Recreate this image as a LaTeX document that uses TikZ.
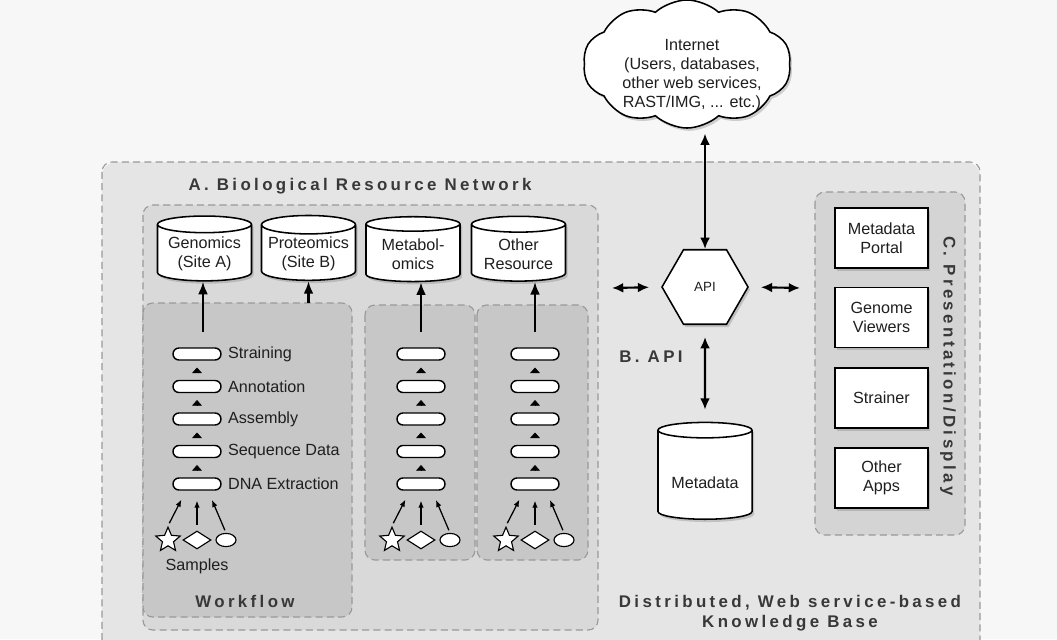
\documentclass[tikz,border=0pt]{standalone}
\usepackage{fontspec}
\setmainfont{Liberation Sans}
\newfontfamily\headfont[LetterSpace=20]{Liberation Sans}
\usetikzlibrary{shapes.geometric,shapes.misc,shapes.symbols,shadows,arrows.meta,positioning,calc}

\definecolor{pagebg}{gray}{0.97}
\definecolor{kbfill}{gray}{0.90}
\definecolor{netfill}{gray}{0.85}
\definecolor{wffill}{gray}{0.78}
\definecolor{dispfill}{gray}{0.83}
\definecolor{zoneline}{gray}{0.60}
\definecolor{ink}{gray}{0.12}
\definecolor{headink}{gray}{0.22}

\begin{document}
\begin{tikzpicture}[x=0.025cm, y=-0.025cm,
  font=\fontsize{11.5}{13.5}\selectfont, text=ink,
  zone/.style={draw=zoneline, dash pattern=on 5pt off 3pt, line width=0.8pt, rounded corners=7pt},
  heading/.style={font=\headfont\bfseries\fontsize{12}{14.5}\selectfont, text=headink, align=center},
  shade/.style={drop shadow={shadow xshift=1.5pt, shadow yshift=-2pt, opacity=0.35}},
  db/.style={cylinder, shape border rotate=90, aspect=0.22, draw=black, line width=1.1pt,
    fill=white, align=center, minimum width=2.35cm, minimum height=1.62cm, inner sep=1pt, shade},
  appbox/.style={rectangle, draw=black, line width=1.1pt, fill=white, align=center,
    minimum width=2.32cm, minimum height=1.5cm, shade},
  wfstep/.style={rounded rectangle, draw=black, line width=1pt, fill=white,
    minimum width=1.2cm, minimum height=0.3cm, inner sep=0pt},
  sstar/.style={star, star points=5, star point ratio=2.2, draw=black, line width=0.8pt,
    fill=white, minimum size=0.64cm, inner sep=0pt},
  sdia/.style={diamond, draw=black, line width=0.8pt, fill=white, minimum width=0.7cm,
    minimum height=0.45cm, inner sep=0pt},
  segg/.style={ellipse, draw=black, line width=0.8pt, fill=white, minimum width=0.5cm,
    minimum height=0.33cm, inner sep=0pt},
  up/.style={-{Latex[length=9pt,width=7pt]}, line width=1.6pt},
  dbl/.style={{Latex[length=8pt,width=7pt]}-{Latex[length=8pt,width=7pt]}, line width=1.5pt},
  stub/.style={-{Triangle[length=4pt,width=7pt]}, line width=0.4pt,
    shorten <=0.22cm, shorten >=0.17cm},
  feed/.style={-{Latex[length=5pt,width=4pt]}, line width=0.9pt}]

% page and frame: 1 unit = 1 px of the reference
\fill[pagebg] (0,0) rectangle (1057,639);
\clip (0,0) rectangle (1057,639);

% Zones
\fill[kbfill] (102,162) [rounded corners=10pt] rectangle (980,670);
\draw[zone] (102,162) rectangle (980,670);
\fill[netfill, rounded corners=7pt] (143,205) rectangle (598,630);
\draw[zone] (143,205) rectangle (598,630);
\fill[wffill, rounded corners=7pt] (143,303) rectangle (352,617);
\draw[zone] (143,303) rectangle (352,617);
\fill[wffill, rounded corners=7pt] (365,305) rectangle (475,560);
\draw[zone] (365,305) rectangle (475,560);
\fill[wffill, rounded corners=7pt] (477,305) rectangle (588,560);
\draw[zone] (477,305) rectangle (588,560);
\fill[dispfill, rounded corners=7pt] (815,192) rectangle (965,535);
\draw[zone] (815,192) rectangle (965,535);

% Headings
\node[heading] (atitle) at (360,186) {A. Biological Resource Network};
\node[heading] (wftitle) at (245,601) {Workflow};
\node[heading] (btitle) at (651,357) {B. API};
\node[heading, rotate=-90] (ctitle) at (948,366) {C. Presentation/Display};
\node[heading] (kbtitle) at (790,613) {Distributed, Web service-based\\Knowledge Base};

% Resource databases
\node[db] (gen)  at (204.5,254) {Genomics\\(Site A)};
\node[db] (prot) at (308.5,254) {Proteomics\\(Site B)};
\node[db] (meta) at (413,254)   {Metabol-\\omics};
\node[db] (oth)  at (518.5,254) {Other\\Resource};

% Workflow columns
\foreach \c/\x in {g/197, m/421, o/535} {
  \foreach \i in {1,...,5}
    \node[wfstep] (\c\i) at (\x, {354+32.5*(\i-1)}) {};
  \foreach \i/\j in {1/2,2/3,3/4,4/5}
    \draw[stub] (\c\j) -- (\c\i);
  \node[sstar] (\c-star) at (\x-29,540) {};
  \node[sdia]  (\c-dia)  at (\x,540) {};
  \node[segg]  (\c-egg)  at (\x+29,540) {};
  \draw[feed, shorten <=2pt, shorten >=0.25cm] (\c-star.north) -- ($(\c5.south)+(-11,0)$);
  \draw[feed, shorten <=4pt, shorten >=0.25cm] (\c-dia.north) -- (\c5.south);
  \draw[feed, shorten <=2pt, shorten >=0.25cm] (\c-egg.north) -- ($(\c5.south)+(11,0)$);
  \coordinate (\c-top) at (\x,332);
}
\foreach \i/\lab in {1/Straining, 2/Annotation, 3/Assembly, 4/Sequence Data, 5/DNA Extraction}
  \node[right=1pt of g\i] (glab\i) {\lab};
\node[below=0.1cm of g-dia] (samples) {Samples};

% Workflow outputs
\coordinate (gsrc) at (203,332);
\coordinate (psrc) at (308.5,303);
\draw[up] (gsrc) -- (gsrc |- gen.south);
\draw[up] (psrc) -- (prot.south);
\draw[up] (m-top) -- (m-top |- meta.south);
\draw[up] (o-top) -- (o-top |- oth.south);

% Internet and API
\node[cloud, cloud puffs=10, cloud puff arc=85, aspect=1.7, draw=black, line width=1.1pt,
  fill=white, align=center, minimum width=5.2cm, minimum height=3.2cm, inner sep=0pt, shade]
  (net) at (687,64) {};
\node[align=center] (nettext) at (692,75) {Internet\\(Users, databases,\\other web services,\\RAST/IMG, ... etc.)};
\node[regular polygon, regular polygon sides=6, draw=black,
  line width=1.1pt, fill=white, minimum size=2.15cm, inner sep=0pt, shade,
  font=\fontsize{9.5}{11}\selectfont] (api) at (705,287) {API};
\node[db, minimum height=2.42cm, text height=18pt] (mdb) at (705,476) {Metadata};

\coordinate (aside) at (612,288);
\coordinate (cside) at (800,288);
\draw[dbl, shorten <=0.12cm] (api.north |- net.south) -- (api.north);
\draw[dbl, shorten >=0.3cm] (aside) -- (api.west);
\draw[dbl, shorten <=0.3cm] (api.east) -- (cside);
\draw[dbl, shorten <=0.3cm, shorten >=0.3cm] (api.south) -- (mdb.north);

% Presentation apps
\node[appbox] (portal)  at (881.5,238)   {Metadata\\Portal};
\node[appbox] (viewers) at (881.5,317.5) {Genome\\Viewers};
\node[appbox] (strain)  at (881.5,398)   {Strainer};
\node[appbox] (apps)    at (881.5,478)   {Other\\Apps};
\end{tikzpicture}
\end{document}
